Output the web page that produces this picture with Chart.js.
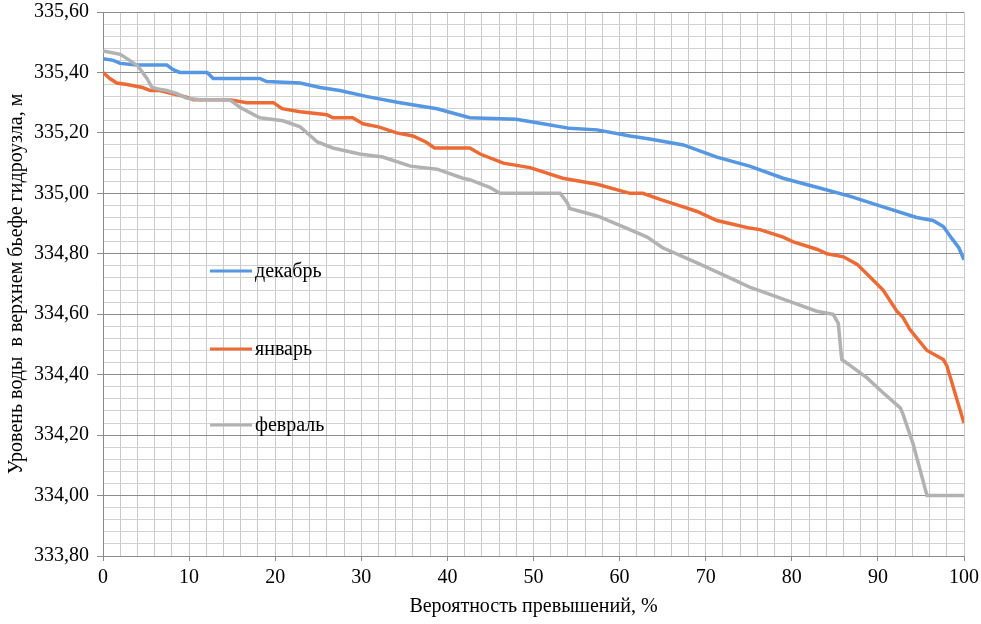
<!DOCTYPE html>
<html>
<head>
<meta charset="utf-8">
<script src="https://cdn.jsdelivr.net/npm/chart.js@4"></script>
<style>
  body { margin: 0; background: #fff; }
  #wrap { width: 981px; height: 624px; }
</style>
</head>
<body>
<div id="wrap"><canvas id="chart" width="981" height="624"></canvas></div>
<script>
// декабрь
const decX = [0, 1.2, 2, 3.9, 7.4, 8.1, 8.9, 12.1, 12.8, 18.2, 19, 22.9, 25.2, 27.5, 30.7, 34.5, 38.8, 42.6, 48, 51.1, 54.2, 57.4, 61.2, 63.5, 67.4, 71.3, 75.1, 79, 82.9, 86.8, 90.6, 94.5, 96.4, 97.6, 98.6, 99.4, 100];
const decY = [335.445, 335.44, 335.43, 335.425, 335.425, 335.41, 335.40, 335.40, 335.38, 335.38, 335.37, 335.365, 335.35, 335.34, 335.32, 335.30, 335.28, 335.25, 335.245, 335.23, 335.215, 335.21, 335.19, 335.18, 335.16, 335.12, 335.09, 335.05, 335.02, 334.99, 334.955, 334.92, 334.91, 334.89, 334.85, 334.82, 334.78];

// январь
const janX = [0, 0.8, 1.6, 2.8, 4.6, 5.5, 6.6, 8, 9.5, 10.5, 14.7, 16.7, 19.8, 20.8, 22.9, 26, 26.7, 29, 30.2, 32, 34.1, 36, 37.5, 38.5, 42.6, 43.8, 46.5, 49.6, 53.4, 57.4, 61.2, 62.7, 64.7, 67.4, 69, 71.3, 72.8, 75.1, 76.3, 79, 80.1, 82.9, 84.1, 86, 87.6, 89.9, 90.6, 92.2, 92.9, 93.7, 95.7, 97.6, 98, 100];
const janY = [335.40, 335.38, 335.365, 335.36, 335.35, 335.34, 335.34, 335.33, 335.32, 335.31, 335.31, 335.30, 335.30, 335.28, 335.27, 335.26, 335.25, 335.25, 335.23, 335.22, 335.20, 335.19, 335.17, 335.15, 335.15, 335.13, 335.10, 335.085, 335.05, 335.03, 335.00, 335.00, 334.98, 334.955, 334.94, 334.91, 334.90, 334.885, 334.88, 334.855, 334.84, 334.815, 334.80, 334.79, 334.765, 334.70, 334.68, 334.61, 334.59, 334.55, 334.48, 334.45, 334.43, 334.24];

// февраль
const febX = [0, 0.2, 2, 3.1, 4.1, 5.1, 5.7, 6.4, 7.4, 8.6, 9.7, 11.3, 14.7, 15.9, 18.2, 20.9, 22.9, 24.9, 26.7, 29.8, 32.5, 35.7, 38.8, 41.8, 42.6, 44.9, 46.1, 53.1, 53.9, 54.2, 57.4, 61.2, 63.2, 65, 69, 72.8, 75.1, 79, 82.9, 84.8, 85.4, 85.8, 86.8, 88.7, 90.6, 92.6, 92.9, 94.1, 95.7, 100];
const febY = [335.47, 335.47, 335.46, 335.44, 335.42, 335.38, 335.35, 335.345, 335.34, 335.33, 335.315, 335.31, 335.31, 335.285, 335.25, 335.24, 335.22, 335.17, 335.15, 335.13, 335.12, 335.09, 335.08, 335.05, 335.045, 335.02, 335.00, 335.00, 334.97, 334.95, 334.925, 334.88, 334.855, 334.82, 334.77, 334.72, 334.69, 334.65, 334.61, 334.60, 334.57, 334.45, 334.43, 334.39, 334.34, 334.29, 334.27, 334.17, 334.00, 334.00];

const seriesNames = ["декабрь", "январь", "февраль"];
const seriesColors = ["#5597e2", "#ec6b35", "#b2b2b2"];

const yMin = 333.8, yMax = 335.6, yMinor = 0.04;
const xMin = 0, xMax = 100, xMinor = 2;

const toPoints = (xs, ys) => xs.map((x, i) => ({ x: x, y: ys[i] }));

const isMajorY = (v) => Math.abs(v * 5 - Math.round(v * 5)) < 1e-6;
const isMajorX = (v) => Math.abs(v / 10 - Math.round(v / 10)) < 1e-6;

const serif = "'Liberation Serif', 'DejaVu Serif', serif";

// legend drawn inside the plot, like in the source picture
const insideLegend = {
  id: "insideLegend",
  afterDatasetsDraw(chart) {
    const ctx = chart.ctx;
    const rows = [271, 349, 425];
    ctx.save();
    ctx.font = "20px " + serif;
    ctx.textBaseline = "middle";
    ctx.fillStyle = "#000";
    rows.forEach((y, i) => {
      ctx.strokeStyle = seriesColors[i];
      ctx.lineWidth = 3;
      ctx.beginPath();
      ctx.moveTo(210, y);
      ctx.lineTo(252, y);
      ctx.stroke();
      ctx.fillText(seriesNames[i], 255, y + 1);
    });
    ctx.restore();
  },
};

new Chart(document.getElementById("chart"), {
  type: "line",
  data: {
    datasets: [
      { label: seriesNames[0], data: toPoints(decX, decY), borderColor: seriesColors[0], order: 3 },
      { label: seriesNames[1], data: toPoints(janX, janY), borderColor: seriesColors[1], order: 2 },
      { label: seriesNames[2], data: toPoints(febX, febY), borderColor: seriesColors[2], order: 1 },
    ],
  },
  options: {
    responsive: false,
    animation: false,
    devicePixelRatio: 1,
    layout: { padding: { left: 0, right: 17, top: 12, bottom: 0 } },
    elements: {
      point: { radius: 0 },
      line: { borderWidth: 3.5, tension: 0, fill: false },
    },
    plugins: {
      legend: { display: false },
      tooltip: { enabled: false },
    },
    scales: {
      x: {
        type: "linear",
        min: xMin,
        max: xMax,
        afterFit: (scale) => {
          scale.height = 68;
          scale.paddingLeft = 0;
          scale.paddingRight = 0;
        },
        border: { color: "#8a8a8a", width: 1 },
        grid: {
          color: "#c9c9c9",
          lineWidth: 1,
          tickLength: 5,
          tickColor: (c) => (isMajorX(c.tick.value) ? "#8a8a8a" : "rgba(0,0,0,0)"),
        },
        ticks: {
          stepSize: xMinor,
          autoSkip: false,
          maxRotation: 0,
          padding: 5,
          color: "#000",
          font: { family: serif, size: 20 },
          callback: (v) => (isMajorX(v) ? String(Math.round(v)) : ""),
        },
        title: {
          display: true,
          text: "Вероятность превышений, %",
          color: "#000",
          font: { family: serif, size: 20 },
          padding: { top: 0, bottom: 5 },
        },
      },
      y: {
        min: yMin,
        max: yMax,
        afterFit: (scale) => {
          scale.width = 103;
          scale.paddingTop = 0;
          scale.paddingBottom = 0;
        },
        border: { color: "#8a8a8a", width: 1 },
        grid: {
          color: (c) => (isMajorY(c.tick.value) ? "#8c8c8c" : "#d2d2d2"),
          lineWidth: 1,
          tickLength: 6,
          tickColor: (c) => (isMajorY(c.tick.value) ? "#8a8a8a" : "rgba(0,0,0,0)"),
        },
        ticks: {
          stepSize: yMinor,
          autoSkip: false,
          padding: 8,
          color: "#000",
          font: { family: serif, size: 20 },
          callback: (v) => (isMajorY(v) ? v.toFixed(2).replace(".", ",") : ""),
        },
        title: {
          display: true,
          text: "Уровень воды  в верхнем бьефе гидроузла, м",
          color: "#000",
          font: { family: serif, size: 20 },
          padding: { top: 5, bottom: 0 },
        },
      },
    },
  },
  plugins: [insideLegend],
});
</script>
</body>
</html>
